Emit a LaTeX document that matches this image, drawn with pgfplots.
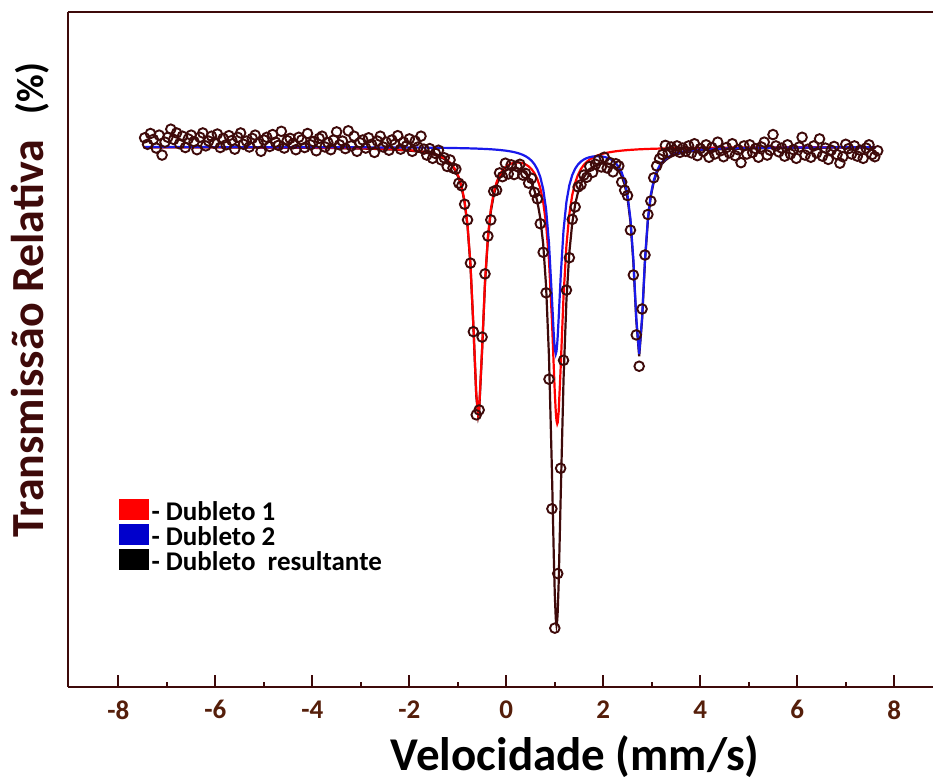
\documentclass[border=0pt]{standalone}
\usepackage{fontspec}
\setmainfont{Carlito}
\usepackage{pgfplots}
\pgfplotsset{compat=1.18}
\usepackage{pgfplotstable}
\usetikzlibrary{calc}
\definecolor{brn}{RGB}{62,10,10}
\definecolor{tickbrn}{RGB}{85,30,10}
\definecolor{azul}{RGB}{25,25,235}
\definecolor{azulleg}{RGB}{0,0,204}
\definecolor{verm}{RGB}{255,0,0}

% ajuste: x, dubleto 1, dubleto 2, resultante
\pgfplotstableread{
x      red    blue   tot
-7.46  99.97  99.99  99.95
-6.00  99.95  99.98  99.93
-5.00  99.92  99.97  99.90
-4.00  99.88  99.96  99.84
-3.00  99.78  99.94  99.72
-2.50  99.66  99.92  99.59
-2.00  99.42  99.90  99.32
-1.85  99.29  99.89  99.18
-1.70  99.11  99.88  98.99
-1.64  99.02  99.88  98.90
-1.58  98.91  99.87  98.78
-1.52  98.78  99.87  98.65
-1.46  98.63  99.86  98.49
-1.40  98.44  99.85  98.30
-1.34  98.21  99.85  98.06
-1.28  97.93  99.84  97.77
-1.22  97.56  99.83  97.40
-1.16  97.09  99.82  96.92
-1.10  96.47  99.81  96.28
-1.04  95.61  99.80  95.41
-0.98  94.40  99.79  94.19
-0.92  92.63  99.78  92.41
-0.86  89.91  99.77  89.68
-0.80  85.56  99.76  85.31
-0.74  78.40  99.74  78.14
-0.68  67.16  99.72  66.88
-0.62  54.25  99.71  53.95
-0.58  50.52  99.69  50.22
-0.56  51.50  99.68  51.18
-0.50  62.57  99.66  62.24
-0.44  75.00  99.64  74.64
-0.38  83.37  99.61  82.98
-0.32  88.44  99.58  88.01
-0.26  91.54  99.54  91.08
-0.20  93.50  99.50  93.00
-0.14  94.79  99.45  94.24
-0.08  95.66  99.39  95.06
-0.02  96.26  99.33  95.58
0.04   96.66  99.25  95.91
0.10   96.92  99.16  96.08
0.16   97.07  99.05  96.13
0.22   97.13  98.92  96.05
0.28   97.10  98.75  95.86
0.34   96.98  98.55  95.53
0.40   96.76  98.28  95.04
0.46   96.41  97.93  94.34
0.52   95.90  97.46  93.35
0.58   95.15  96.80  91.95
0.64   94.05  95.86  89.91
0.70   92.40  94.45  86.85
0.76   89.85  92.22  82.07
0.82   85.75  88.51  74.26
0.88   78.98  82.17  61.16
0.94   68.12  72.17  40.28
0.98   58.89  64.99  23.88
1.00   54.48  62.57  17.05
1.02   50.96  61.68  12.65
1.035  49.31  62.18  11.49
1.05   48.74  63.60  12.34
1.06   49.00  64.97  13.97
1.08   50.99  68.36  19.35
1.12   58.95  75.82  34.77
1.18   72.36  84.59  56.95
1.24   81.80  89.86  71.66
1.30   87.58  92.94  80.51
1.36   91.12  94.81  85.93
1.42   93.39  95.99  89.38
1.48   94.90  96.78  91.68
1.54   95.95  97.32  93.26
1.60   96.70  97.69  94.39
1.66   97.26  97.95  95.21
1.72   97.69  98.12  95.81
1.78   98.02  98.23  96.25
1.84   98.29  98.29  96.57
1.90   98.50  98.30  96.80
1.96   98.67  98.26  96.93
2.02   98.82  98.16  96.98
2.08   98.94  98.01  96.95
2.14   99.04  97.79  96.83
2.20   99.13  97.46  96.59
2.26   99.21  96.98  96.19
2.32   99.27  96.29  95.57
2.38   99.33  95.26  94.59
2.44   99.38  93.66  93.04
2.50   99.43  91.07  90.49
2.56   99.47  86.67  86.14
2.62   99.50  79.18  78.68
2.68   99.54  68.36  67.90
2.74   99.57  61.68  61.25
2.80   99.59  68.39  67.98
2.86   99.62  79.24  78.86
2.92   99.64  86.76  86.40
2.98   99.66  91.19  90.85
3.04   99.68  93.82  93.50
3.10   99.69  95.46  95.15
3.16   99.71  96.53  96.24
3.22   99.72  97.26  96.99
3.28   99.74  97.79  97.52
3.34   99.75  98.17  97.92
3.40   99.76  98.46  98.22
3.46   99.77  98.69  98.46
3.52   99.78  98.87  98.65
3.58   99.79  99.01  98.80
3.64   99.80  99.13  98.93
3.70   99.81  99.22  99.03
4.00   99.84  99.53  99.37
4.50   99.88  99.74  99.62
5.00   99.91  99.83  99.74
6.00   99.94  99.91  99.85
7.62   99.96  99.96  99.92
}\ajuste

\begin{document}
\begin{tikzpicture}
\begin{axis}[
    scale only axis,
    width=865pt, height=675pt,
    xmin=-9.04, xmax=8.80, ymin=0, ymax=125,
    axis x line=box, axis y line=left,
    axis line style={-, line width=2.4pt, color=brn},
    xtick={-8,-6,-4,-2,0,2,4,6,8},
    xticklabels={-8,-6,-4,-2,0,2,4,6,8},
    minor xtick={-7,-5,-3,-1,1,3,5,7},
    ytick=\empty,
    xtick pos=bottom,
    tick align=inside,
    major tick length=12pt, minor tick length=5pt,
    tick style={line width=2pt, color=brn},
    xticklabel style={font=\fontsize{27}{27}\selectfont\bfseries, text=tickbrn, yshift=-10pt},
    xlabel={Velocidade (mm/s)},
    xlabel style={font=\fontsize{47}{47}\selectfont\bfseries, at={(axis cs:1.42,0)}, anchor=north, yshift=-45pt},
    ylabel={{\color{brn}Transmissão Relativa}\hspace{26pt}{\fontsize{38}{38}\selectfont(\%)}},
    ylabel style={font=\fontsize{46}{46}\selectfont\bfseries, at={(rel axis cs:0,0.573)}, anchor=center, yshift=38pt},
    legend style={at={(axis cs:-7.99,34.8)}, anchor=north west, draw=none, fill=none,
        inner sep=0pt, font=\fontsize{27}{27}\selectfont\bfseries, row sep=1.5pt,
        nodes={inner sep=1pt}},
    legend cell align=left,
]
\coordinate (sw) at (rel axis cs:0,0);
\coordinate (ne) at (rel axis cs:1,1);

\addplot[only marks, mark=o, mark size=4.8pt, mark options={line width=1.9pt, draw=brn}, forget plot]
coordinates {
(-7.46,101.7) (-7.40,100.5) (-7.34,102.5) (-7.28,101.4) (-7.22,99.8) (-7.16,102.2) (-7.10,98.5) (-7.04,100.9)
(-6.98,101.8) (-6.92,103.3) (-6.86,101.4) (-6.80,102.6) (-6.74,100.6) (-6.68,102.0) (-6.62,99.9) (-6.56,101.5)
(-6.50,102.2) (-6.44,101.0) (-6.38,99.5) (-6.32,101.8) (-6.26,102.6) (-6.20,100.2) (-6.14,101.1) (-6.08,102.0)
(-6.02,100.7) (-5.96,102.4) (-5.90,99.9) (-5.84,101.6) (-5.78,100.4) (-5.72,102.1) (-5.66,101.2) (-5.60,99.6)
(-5.54,101.8) (-5.48,102.6) (-5.42,100.5) (-5.36,101.1) (-5.30,100.0) (-5.24,101.6) (-5.18,102.2) (-5.12,100.7)
(-5.06,99.2) (-5.00,101.3) (-4.94,101.8) (-4.88,100.1) (-4.82,102.3) (-4.76,100.9) (-4.70,100.3) (-4.64,102.9)
(-4.58,99.8) (-4.52,101.2) (-4.46,101.6) (-4.40,100.6) (-4.34,99.5) (-4.28,101.8) (-4.22,101.3) (-4.16,99.9)
(-4.10,102.5) (-4.04,100.4) (-3.98,101.0) (-3.92,99.3) (-3.86,101.6) (-3.80,102.0) (-3.74,100.0) (-3.68,100.8)
(-3.62,99.5) (-3.56,101.3) (-3.50,102.8) (-3.44,100.4) (-3.38,101.1) (-3.32,99.7) (-3.26,103.0) (-3.20,100.2)
(-3.14,102.0) (-3.08,99.2) (-3.02,100.8) (-2.96,101.3) (-2.90,99.8) (-2.84,101.7) (-2.78,100.5) (-2.72,99.0)
(-2.66,101.1) (-2.60,102.0) (-2.54,100.0) (-2.48,100.9) (-2.42,99.4) (-2.36,101.3) (-2.30,100.5) (-2.24,102.1)
(-2.18,99.6) (-2.12,100.9) (-2.06,100.2) (-2.00,101.5) (-1.94,99.2) (-1.88,101.1) (-1.82,100.0) (-1.76,102.0)
(-1.70,99.6) (-1.64,98.5) (-1.58,99.7) (-1.52,97.9) (-1.46,98.8) (-1.40,99.4) (-1.34,97.6) (-1.28,98.0)
(-1.22,96.4) (-1.16,97.6) (-1.10,96.1) (-1.04,95.9) (-0.98,93.3) (-0.92,92.8) (-0.86,89.4) (-0.80,86.5)
(-0.74,78.5) (-0.68,65.8) (-0.62,50.4) (-0.56,51.3) (-0.50,64.8) (-0.44,76.5) (-0.38,83.5) (-0.32,86.5)
(-0.26,91.8) (-0.20,92.0) (-0.14,95.2) (-0.08,94.5) (-0.02,97.0) (0.04,95.0) (0.10,96.7) (0.16,94.9)
(0.22,96.4) (0.28,96.8) (0.34,94.8) (0.40,95.1) (0.46,93.3) (0.52,94.2) (0.58,91.6) (0.64,90.4)
(0.70,85.8) (0.76,80.5) (0.82,73.0) (0.88,57.0) (0.94,33.0) (1.00,10.9) (1.06,21.0) (1.12,40.5)
(1.18,60.5) (1.24,73.5) (1.30,79.5) (1.36,86.6) (1.42,88.9) (1.48,92.6) (1.54,93.0) (1.60,94.8)
(1.66,94.4) (1.72,96.4) (1.78,95.3) (1.84,96.8) (1.90,97.6) (1.96,96.3) (2.02,98.1) (2.08,96.1)
(2.14,97.1) (2.20,95.4) (2.26,96.9) (2.32,96.5) (2.38,93.5) (2.44,92.0) (2.50,91.0) (2.56,84.6)
(2.62,76.3) (2.68,65.2) (2.74,59.4) (2.80,70.0) (2.86,80.0) (2.92,87.5) (2.98,90.0) (3.04,94.3)
(3.10,96.5) (3.16,97.8) (3.22,98.6) (3.28,100.3) (3.34,99.0) (3.40,100.0) (3.46,99.4) (3.52,100.2)
(3.58,99.0) (3.64,99.8) (3.70,99.2)
(3.76,100.2) (3.82,98.9) (3.88,100.6) (3.94,98.4) (4.00,99.7) (4.06,99.2) (4.12,100.4) (4.18,98.1)
(4.24,99.9) (4.30,98.7) (4.36,100.9) (4.42,99.3) (4.48,98.2) (4.54,99.9) (4.60,98.9) (4.66,100.6)
(4.72,98.4) (4.78,99.5) (4.84,97.1) (4.90,100.2) (4.96,98.7) (5.02,100.4) (5.08,99.0) (5.14,99.7)
(5.20,98.1) (5.26,100.0) (5.32,100.9) (5.38,98.5) (5.44,99.4) (5.50,102.3) (5.56,100.2) (5.62,99.1)
(5.68,99.8) (5.74,98.3) (5.80,100.4) (5.86,98.7) (5.92,99.5) (5.98,97.9) (6.04,100.0) (6.10,101.8)
(6.16,98.5) (6.22,99.6) (6.28,98.1) (6.34,100.2) (6.40,98.9) (6.46,101.5) (6.52,98.3) (6.58,99.8)
(6.64,97.7) (6.70,99.4) (6.76,100.1) (6.82,98.6) (6.88,97.0) (6.94,98.2) (7.00,100.5) (7.06,99.7)
(7.12,98.7) (7.18,100.2) (7.24,98.3) (7.30,99.4) (7.36,97.9) (7.42,99.8) (7.48,100.4) (7.54,98.6)
(7.60,98.2) (7.66,99.3)
};

\addplot[brn, line width=2.2pt, forget plot] table[x=x, y=tot] {\ajuste};
\addplot[verm, line width=2.2pt, forget plot] table[x=x, y=red] {\ajuste};
\addplot[azul, line width=2.2pt, forget plot] table[x=x, y=blue] {\ajuste};

\addlegendimage{legend image code/.code={\fill[verm] (0pt,-8pt) rectangle (29pt,12pt);}}
\addlegendentry{\hspace{2pt}- Dubleto 1}
\addlegendimage{legend image code/.code={\fill[azulleg] (0pt,-8pt) rectangle (29pt,12pt);}}
\addlegendentry{\hspace{2pt}- Dubleto 2}
\addlegendimage{legend image code/.code={\fill[black] (0pt,-8pt) rectangle (29pt,12pt);}}
\addlegendentry{\hspace{2pt}- Dubleto\ \ resultante}
\end{axis}
\pgfresetboundingbox
\path[use as bounding box] ($(sw)+(-68pt,-94pt)$) rectangle ($(ne)+(0pt,12pt)$);
\end{tikzpicture}
\end{document}
